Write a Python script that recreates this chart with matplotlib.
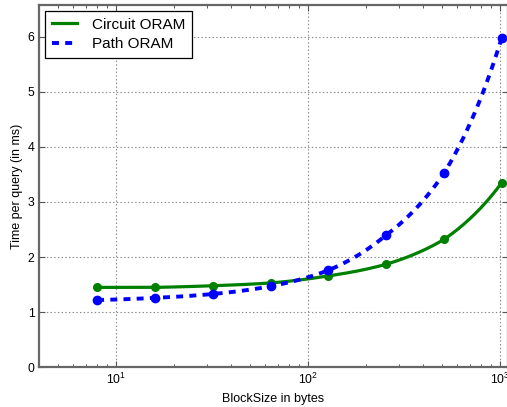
import numpy as np
import matplotlib
matplotlib.use("Agg")
import matplotlib.pyplot as plt

# block sizes (bytes) and measured time per query (ms)
block_sizes = [8, 16, 32, 64, 128, 256, 512, 1024]
circuit_oram = [1.45, 1.45, 1.48, 1.53, 1.66, 1.87, 2.32, 3.35]
path_oram = [1.22, 1.26, 1.33, 1.47, 1.76, 2.40, 3.52, 5.98]

plt.rcParams["font.family"] = ["Liberation Sans", "DejaVu Sans"]
plt.rcParams["mathtext.fontset"] = "custom"
plt.rcParams["mathtext.rm"] = "Liberation Sans"
plt.rcParams["mathtext.it"] = "Liberation Sans:italic"
plt.rcParams["lines.scale_dashes"] = False

fig = plt.figure(figsize=(5.07, 4.07), dpi=100)
ax = fig.add_axes([39.3 / 507, 39.7 / 407, 468.4 / 507, 362.6 / 407])

# lines drawn as straight segments in linear x, which bend on the log axis
xs = np.geomspace(block_sizes[0], block_sizes[-1], 300)
ax.plot(xs, np.interp(xs, block_sizes, circuit_oram), color="g", lw=2.3,
        label="Circuit ORAM")
ax.plot(xs, np.interp(xs, block_sizes, path_oram), color="b", lw=2.8,
        dashes=(5, 4.5), label="Path ORAM")
ax.plot(block_sizes, circuit_oram, "o", color="g", ms=5.5, mec="g")
ax.plot(block_sizes, path_oram, "o", color="b", ms=6, mec="b")

ax.set_xscale("log")
ax.set_xlim(4, 1100)
ax.set_ylim(0, 6.58)
ax.set_yticks([0, 1, 2, 3, 4, 5, 6])

ax.grid(True, which="major", linestyle=":", color="#888888", lw=0.8)
ax.tick_params(which="both", direction="in", top=True, right=True,
               labelsize=8.8, color="#555555")
ax.tick_params(which="major", length=4.5, width=0.8)
ax.tick_params(which="minor", length=2.5, width=0.7)
for sp in ax.spines.values():
    sp.set_color("#666666")
    sp.set_linewidth(1.6)

ax.set_xlabel("BlockSize in bytes", fontsize=9, labelpad=4)
ax.set_ylabel("Time per query (in ms)", fontsize=9, labelpad=3)

leg = ax.legend(loc="upper left", fontsize=11, fancybox=False,
                framealpha=1, edgecolor="black", handlelength=1.6,
                handletextpad=1.0, borderpad=0.45, labelspacing=0.35,
                borderaxespad=0.4)
leg.get_frame().set_linewidth(0.9)

fig.savefig("out.png", dpi=100)
